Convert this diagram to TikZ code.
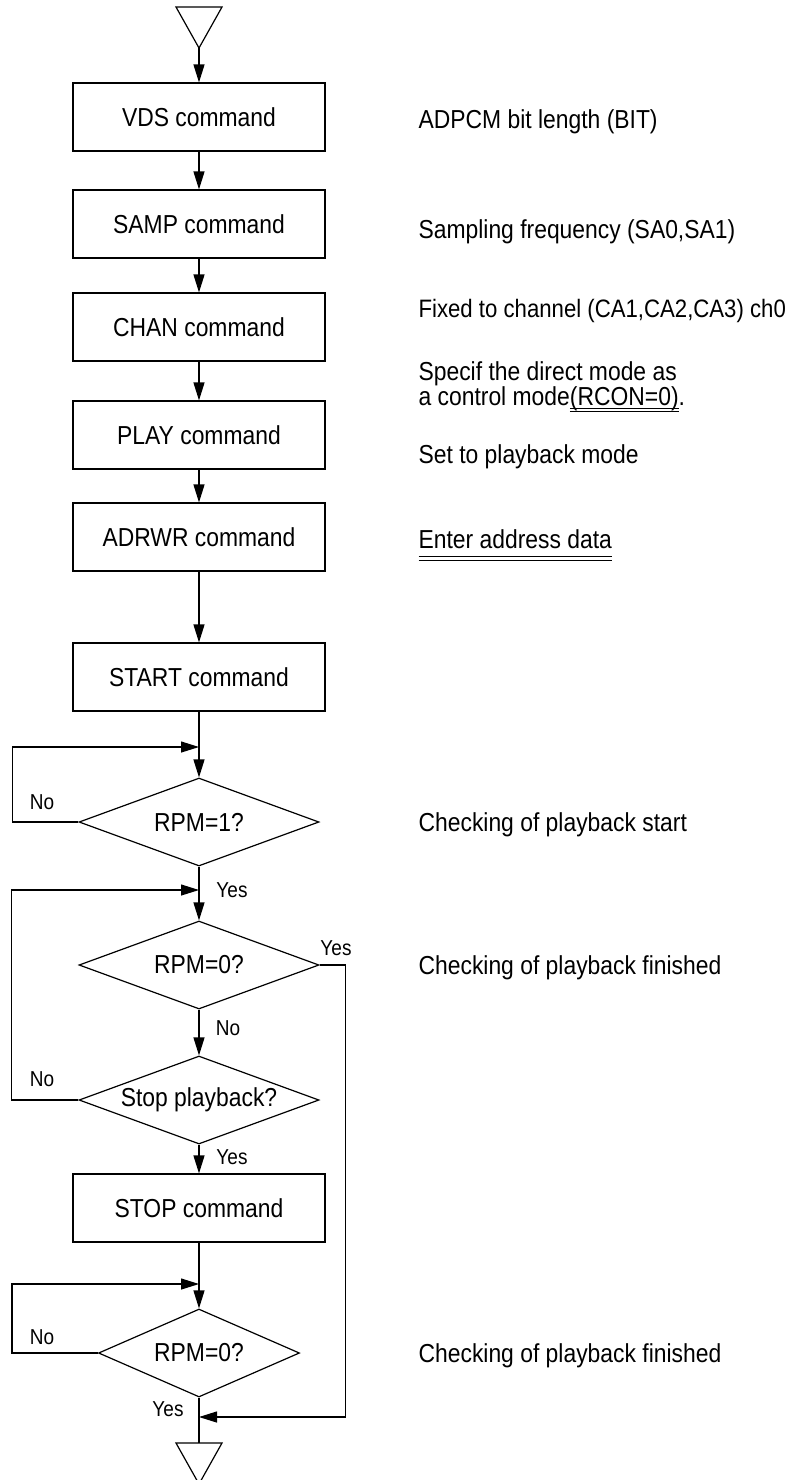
\documentclass[tikz,border=0pt]{standalone}
\usepackage{fontspec}
\setmainfont[FakeStretch=0.88]{Liberation Sans}
\usetikzlibrary{shapes.geometric,arrows.meta}
\newcommand\dblul[3]{\setbox0=\hbox{#3}\rlap{\rule[-#1]{\wd0}{0.5pt}}\rlap{\rule[-#2]{\wd0}{0.5pt}}\box0}
\begin{document}
\begin{tikzpicture}[x=0.5pt,y=-0.5pt,line width=0.6pt,
  cmdbox/.style={draw,minimum width=126pt,minimum height=34pt,inner sep=0pt,font=\fontsize{13}{15}\selectfont},
  decision/.style={draw,diamond,shape aspect=2.73,inner sep=0pt,minimum width=120pt,minimum height=44pt,font=\fontsize{13}{15}\selectfont},
  arr/.style={-{Triangle[length=9pt,width=5.5pt]}},
  lbl/.style={font=\fontsize{10.8}{12}\selectfont,inner sep=0pt},
  note/.style={anchor=base west,inner sep=0pt,font=\fontsize{13}{15}\selectfont}]
\useasboundingbox (0,0) rectangle (796,1480);

% start / end terminals
\draw (176,7) -- (222,7) -- (199,48) -- cycle;
\coordinate (tstart) at (199,48);
\draw (176,1443) -- (222,1443) -- (199,1484) -- cycle;
\coordinate (tend) at (199,1443);

% command boxes
\node[cmdbox] (vds) at (199,117) {VDS command};
\node[cmdbox] (samp) at (199,224) {SAMP command};
\node[cmdbox] (chan) at (199,327) {CHAN command};
\node[cmdbox] (play) at (199,435) {PLAY command};
\node[cmdbox] (adrwr) at (199,537) {ADRWR command};
\node[cmdbox] (start) at (199,677) {START command};
\node[cmdbox] (stop) at (199,1208) {STOP command};

% decisions
\node[decision] (d1) at (199,822) {RPM=1?};
\node[decision] (d2) at (199,965) {RPM=0?};
\node[decision] (d3) at (199,1100) {Stop playback?};
\node[decision,shape aspect=2.28,minimum width=100.5pt] (d4) at (199,1353) {RPM=0?};

% junctions
\coordinate (j1) at (199,747);
\coordinate (j2) at (199,890);
\coordinate (j3) at (199,1284);
\coordinate (j5) at (199,1417);

% connectors
\draw[arr] (tstart) -- (vds);
\draw[arr] (vds) -- (samp);
\draw[arr] (samp) -- (chan);
\draw[arr] (chan) -- (play);
\draw[arr] (play) -- (adrwr);
\draw[arr] (adrwr) -- (start);
\draw[arr] (start) -- (d1);
\draw[arr] (d1.west) -- ++(-66,0) |- (j1);
\draw[arr] (d1) -- (d2);
\draw[arr] (d2) -- (d3);
\draw[arr] (d3.west) -- ++(-67,0) |- (j2);
\draw[arr] (d2.east) -- ++(26,0) |- (j5);
\draw[arr] (d3) -- (stop);
\draw[arr] (stop) -- (d4);
\draw[arr] (d4.west) -- ++(-86,0) |- (j3);
\draw (d4.south) -- (tend);

% branch labels
\node[lbl] (n1) at (42,802) {No};
\node[lbl] (y1) at (232,890) {Yes};
\node[lbl] (y2) at (336,948) {Yes};
\node[lbl] (n2) at (228,1028) {No};
\node[lbl] (n3) at (42,1079) {No};
\node[lbl] (y3) at (232,1157) {Yes};
\node[lbl] (n4) at (42,1337) {No};
\node[lbl] (y4) at (168,1409) {Yes};

% notes
\node[note] (c1) at (418,128) {ADPCM bit length (BIT)};
\node[note] (c2) at (418,238) {Sampling frequency (SA0,SA1)};
\node[note,font=\fontsize{12.6}{15}\selectfont] (c3) at (418,317) {Fixed to channel (CA1,CA2,CA3) ch0};
\node[note] (c4) at (418,380) {Specif the direct mode as};
\node[note] (c5) at (418,405) {a control mode\dblul{2.2pt}{3.7pt}{(RCON=0)}.};
\node[note] (c6) at (418,463) {Set to playback mode};
\node[note] (c7) at (418,548) {\dblul{4.3pt}{6.3pt}{Enter address data}};
\node[note] (c8) at (418,831) {Checking of playback start};
\node[note] (c9) at (418,974) {Checking of playback finished};
\node[note] (c10) at (418,1362) {Checking of playback finished};
\end{tikzpicture}
\end{document}
